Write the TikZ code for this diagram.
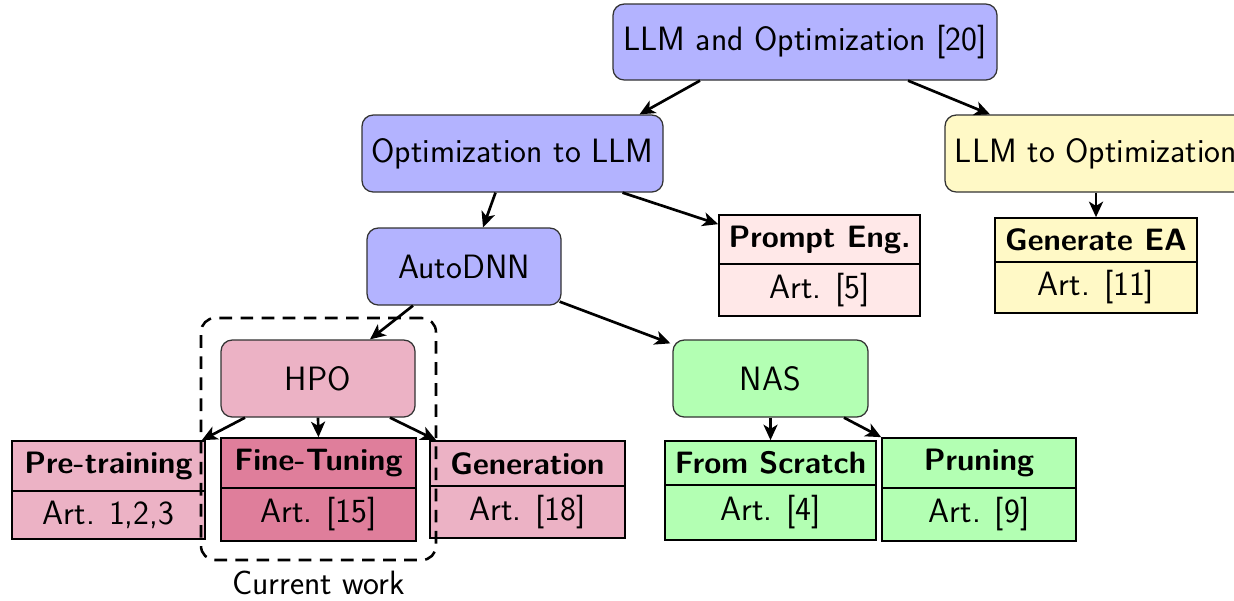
\documentclass[tikz,border=0pt]{standalone}
\usepackage{fontspec}
\usetikzlibrary{arrows.meta,calc}

\definecolor{topblue}{RGB}{179,179,255}
\definecolor{hpopink}{RGB}{236,178,197}
\definecolor{finepink}{RGB}{223,126,155}
\definecolor{lightrose}{RGB}{255,232,232}
\definecolor{paleyellow}{RGB}{255,249,198}
\definecolor{palegreen}{RGB}{179,255,179}

\def\pxu{0.025cm}

\tikzset{
  txt/.style={font=\sffamily\fontsize{24}{28}\selectfont},
  catbox/.style={txt, draw=black!80, line width=0.9pt, rounded corners=8pt,
    inner sep=0pt, align=center},
  headcell/.style={draw=black, line width=1.2pt, inner sep=0pt,
    font=\sffamily\bfseries\fontsize{22}{26}\selectfont},
  bodycell/.style={txt, draw=black, line width=1.2pt, inner sep=0pt},
  arr/.style={-{Stealth[length=11pt,width=10pt,inset=3pt]}, line width=1.9pt},
  workframe/.style={draw=black, line width=1.8pt, dash pattern=on 9pt off 6pt,
    rounded corners=10pt, inner sep=0pt}
}

% a two-part leaf box: name, x1, y-top, y-divider, y-bottom, x2, title, body, fill
\newcommand\leafbox[9]{%
  \node[headcell, fill=#9, minimum width={(#6-#2)*\pxu}, minimum height={(#4-#3)*\pxu}]
    (#1-t) at ({(#2+#6)/2},{(#3+#4)/2}) {#7};
  \node[bodycell, fill=#9, minimum width={(#6-#2)*\pxu}, minimum height={(#5-#4)*\pxu}]
    (#1-b) at ({(#2+#6)/2},{(#4+#5)/2}) {#8};
}

\begin{document}
\begin{tikzpicture}[x=\pxu, y=-\pxu]
  \useasboundingbox (0,0) rectangle (1234,600);
  \clip (0,0) rectangle (1234,600);

  % category boxes
  \node[catbox, fill=topblue, minimum width=384*\pxu, minimum height=76*\pxu]
    (root) at (805,42) {LLM and Optimization [20]};
  \node[catbox, fill=topblue, minimum width=301*\pxu, minimum height=77*\pxu]
    (opt2llm) at (512.5,153.5) {Optimization to LLM};
  \node[catbox, fill=paleyellow, minimum width=302*\pxu, minimum height=77*\pxu]
    (llm2opt) at (1096,153.5) {LLM to Optimization};
  \node[catbox, fill=topblue, minimum width=194*\pxu, minimum height=77*\pxu]
    (autodnn) at (464,266.5) {AutoDNN};
  \node[catbox, fill=hpopink, minimum width=194*\pxu, minimum height=77*\pxu]
    (hpo) at (318,378.5) {HPO};
  \node[catbox, fill=palegreen, minimum width=195*\pxu, minimum height=77*\pxu]
    (nas) at (770.5,378.5) {NAS};

  % leaf boxes
  \leafbox{prompt}{719}{215}{264}{316}{920}{Prompt Eng.}{Art. [5]}{lightrose}
  \leafbox{genea}{995}{218}{262}{313}{1197}{Generate EA}{Art. [11]}{paleyellow}
  \leafbox{pre}{12}{441}{491}{539}{205}{Pre-training}{Art. 1,2,3}{hpopink}
  \leafbox{fine}{221}{438}{488}{541}{416}{Fine-Tuning}{Art. [15]}{finepink}
  \leafbox{gen}{430}{441}{486}{538}{625}{Generation}{Art. [18]}{hpopink}
  \leafbox{scratch}{665}{441}{485}{540}{876}{From Scratch}{Art. [4]}{palegreen}
  \leafbox{prune}{882}{438}{488}{541}{1076}{Pruning}{Art. [9]}{palegreen}

  % frame around the current work
  \node[workframe, minimum width=235*\pxu, minimum height=242*\pxu]
    (current) at (318.5,439) {};
  \node[txt, anchor=north] (currentlbl) at (318.5,566) {Current work};

  % connectors
  \draw[arr] ([xshift=-105*\pxu]root.south) -- ([xshift=127*\pxu]opt2llm.north);
  \draw[arr] ([xshift=103*\pxu]root.south) -- ([xshift=-106*\pxu]llm2opt.north);
  \draw[arr] ([xshift=-17*\pxu]opt2llm.south) -- ([xshift=19*\pxu]autodnn.north);
  \draw[arr] ([xshift=110*\pxu]opt2llm.south) -- ([yshift=-10*\pxu]prompt-t.north west);
  \draw[arr] (llm2opt.south) -- (genea-t.north);
  \draw[arr] ([xshift=-51*\pxu]autodnn.south) -- ([xshift=52*\pxu]hpo.north);
  \draw[arr] ([xshift=-2*\pxu,yshift=4*\pxu]autodnn.south east) -- ([xshift=-2*\pxu,yshift=-4*\pxu]nas.north west);
  \draw[arr] ([xshift=-73*\pxu]hpo.south) -- ([xshift=-4*\pxu]pre-t.north east);
  \draw[arr] (hpo.south) -- (fine-t.north);
  \draw[arr] ([xshift=72*\pxu]hpo.south) -- ([xshift=7*\pxu]gen-t.north west);
  \draw[arr] (nas.south) -- (scratch-t.north);
  \draw[arr] ([xshift=73.5*\pxu]nas.south) -- (prune-t.north west);
\end{tikzpicture}
\end{document}
